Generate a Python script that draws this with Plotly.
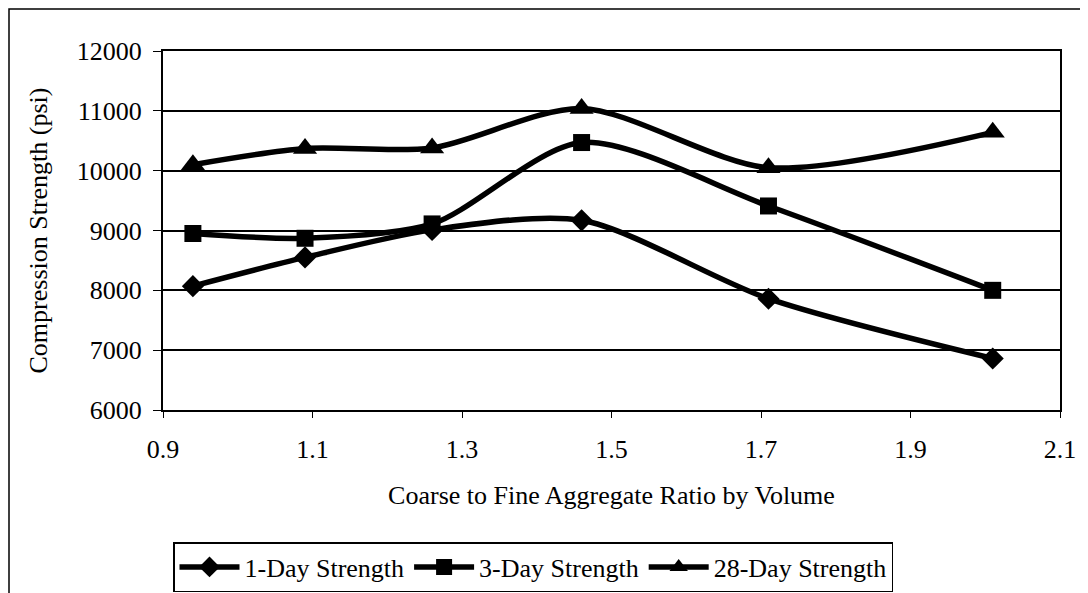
import plotly.graph_objects as go

# Coarse to fine aggregate ratio (by volume)
ratio = [0.94, 1.09, 1.26, 1.46, 1.71, 2.01]

# compression strengths in psi
day1 = [8070, 8550, 9010, 9170, 7860, 6860]
day3 = [8950, 8870, 9110, 10470, 9410, 8000]
day28 = [10100, 10370, 10380, 11040, 10050, 10640]

series_names = ["1-Day Strength", "3-Day Strength", "28-Day Strength"]
series_symbols = ["diamond", "square", "triangle-up"]
marker_sizes = [17, 17, 21]

x_ticks = [0.9, 1.1, 1.3, 1.5, 1.7, 1.9, 2.1]
y_ticks = [6000, 7000, 8000, 9000, 10000, 11000, 12000]

FONT = "Liberation Serif, Times New Roman, serif"
FS = 26

fig = go.Figure()

for name, vals, sym, size in zip(series_names, [day1, day3, day28], series_symbols, marker_sizes):
    fig.add_trace(
        go.Scatter(
            x=ratio,
            y=vals,
            name=name,
            mode="lines+markers",
            line=dict(color="black", width=5.5, shape="spline", smoothing=0.8),
            marker=dict(symbol=sym, size=size, color="black"),
        )
    )

# the page body adds an 8px offset, so the figure is a bit smaller than the window
OFF = 8
W, H = 1088 - OFF, 593 - OFF
ml, mr, mt, mb = 163 - OFF, 28, 51 - OFF, 183
pw, ph = W - ml - mr, H - mt - mb


def px_x(px):
    # page pixel -> paper x
    return (px - OFF - ml) / pw


def px_y(py):
    # page pixel -> paper y
    return (H - mb - (py - OFF)) / ph


# outer chart frame (left/top edges visible, right/bottom run off the image)
fig.add_shape(
    type="rect", xref="paper", yref="paper",
    x0=px_x(9), x1=px_x(1110),
    y0=px_y(620), y1=px_y(9),
    line=dict(color="black", width=1.5),
)

fig.update_layout(
    width=W,
    height=H,
    margin=dict(l=ml, r=mr, t=mt, b=mb, autoexpand=False),
    paper_bgcolor="white",
    plot_bgcolor="white",
    font=dict(family=FONT, size=FS, color="black"),
    showlegend=True,
    legend=dict(
        orientation="h",
        xref="container",
        yref="container",
        x=(173 - OFF) / W,
        xanchor="left",
        y=1 - (542 - OFF) / H,
        yanchor="top",
        bordercolor="black",
        borderwidth=1.5,
        font=dict(family=FONT, size=FS),
        itemwidth=60,
        tracegroupgap=0,
    ),
    xaxis=dict(
        range=[0.9, 2.1],
        tickvals=x_ticks,
        ticktext=[f"{v:.1f}" for v in x_ticks],
        showgrid=False,
        showline=True,
        linecolor="black",
        linewidth=2,
        mirror=True,
        ticks="outside",
        ticklen=6,
        tickcolor="black",
        ticklabelstandoff=9,
        automargin=False,
        title=dict(text="Coarse to Fine Aggregate Ratio by Volume", standoff=23,
                   font=dict(family=FONT, size=FS)),
        zeroline=False,
    ),
    yaxis=dict(
        range=[6000, 12000],
        tickvals=y_ticks,
        ticktext=[str(v) for v in y_ticks],
        showgrid=True,
        gridcolor="black",
        gridwidth=1.5,
        showline=True,
        linecolor="black",
        linewidth=2,
        mirror=True,
        ticks="outside",
        ticklen=8,
        tickcolor="black",
        ticklabelstandoff=6,
        automargin=False,
        title=dict(text="Compression Strength (psi)", standoff=22,
                   font=dict(family=FONT, size=FS)),
        zeroline=False,
    ),
)

fig.write_html("out.html")
